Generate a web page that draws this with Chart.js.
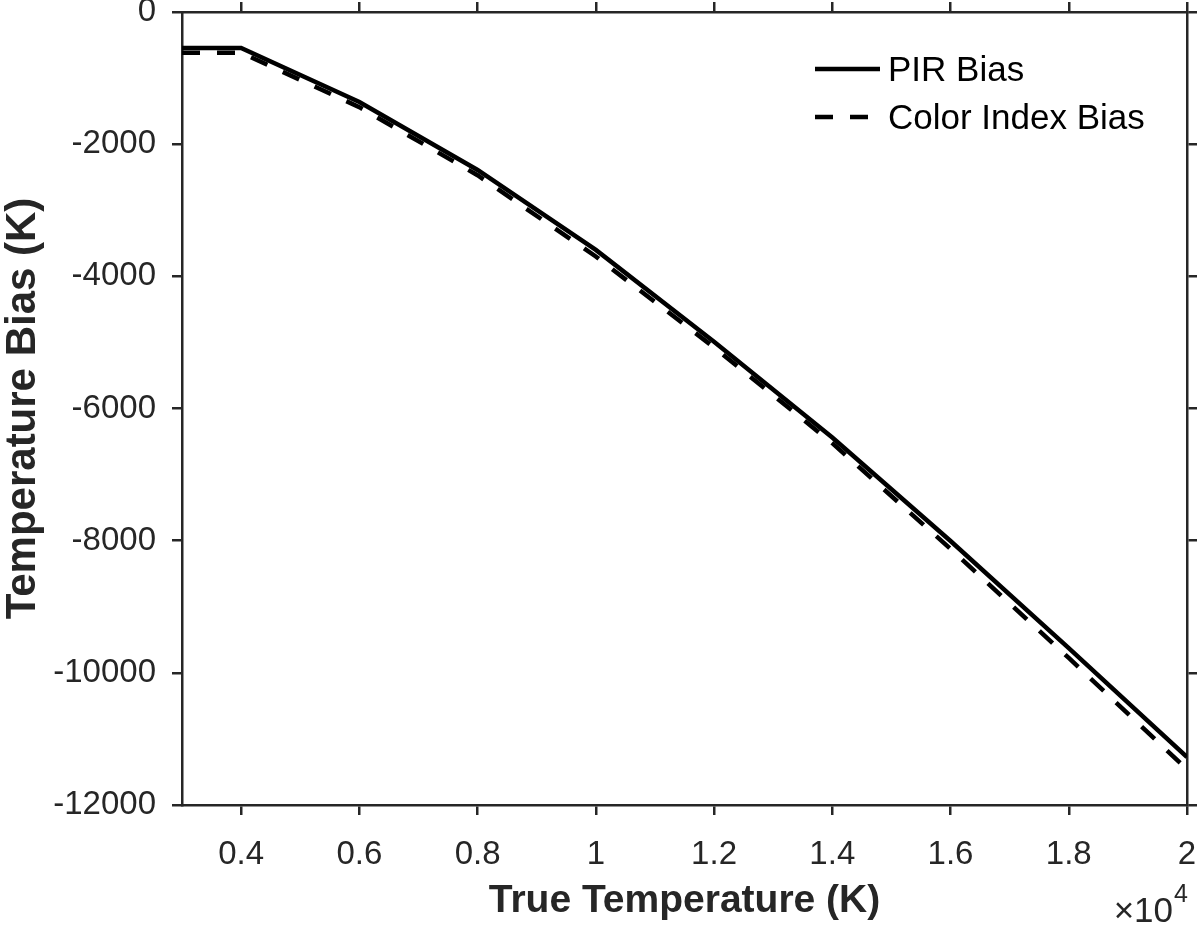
<!DOCTYPE html>
<html>
<head>
<meta charset="utf-8">
<title>Temperature Bias</title>
<script src="https://cdn.jsdelivr.net/npm/chart.js@4.4.0/dist/chart.umd.min.js"></script>
<style>
  html, body { margin: 0; padding: 0; background: #ffffff; }
  #wrap { width: 1200px; height: 925px; position: relative; }
</style>
</head>
<body>
<div id="wrap"><canvas id="biasChart" width="1200" height="925"></canvas></div>
<script>
// data (K)
const trueTemp = [3000, 4000, 6000, 8000, 10000, 12000, 14000, 16000, 18000, 20000];
const pirBias = [-545, -545, -1362, -2390, -3600, -4990, -6440, -8005, -9625, -11275];
const colorIndexBias = [-615, -615, -1440, -2470, -3700, -5075, -6525, -8125, -9775, -11460];

// tick positions
const xTicks = [4000, 6000, 8000, 10000, 12000, 14000, 16000, 18000, 20000];
const yTicks = [-12000, -10000, -8000, -6000, -4000, -2000, 0];

const seriesLabels = ['PIR Bias', 'Color Index Bias'];
const xTitle = 'True Temperature (K)';
const yTitle = 'Temperature Bias (K)';

const AXIS = '#262626';
const FONT = "'Liberation Sans', Arial, Helvetica, sans-serif";
const DASH = [18, 17];

const toPoints = (xs, ys) => xs.map((x, i) => ({ x: x, y: ys[i] }));

// legend drawn like a MATLAB legend without box
const legendPlugin = {
  id: 'matlabLegend',
  afterDatasetsDraw(chart) {
    const ctx = chart.ctx;
    const rows = [69, 117];
    ctx.save();
    chart.data.datasets.forEach((ds, i) => {
      const y = rows[i];
      ctx.beginPath();
      ctx.strokeStyle = ds.borderColor;
      ctx.lineWidth = ds.borderWidth;
      ctx.setLineDash(ds.borderDash || []);
      ctx.moveTo(815, y);
      ctx.lineTo(880, y);
      ctx.stroke();
      ctx.setLineDash([]);
      ctx.fillStyle = '#000000';
      ctx.font = `35px ${FONT}`;
      ctx.textAlign = 'left';
      ctx.textBaseline = 'middle';
      ctx.fillText(ds.label, 888, y + 2);
    });
    ctx.restore();
  }
};

// x10^4 exponent under the x axis
const exponentPlugin = {
  id: 'axisExponent',
  afterDraw(chart) {
    const ctx = chart.ctx;
    ctx.save();
    ctx.fillStyle = AXIS;
    ctx.textBaseline = 'alphabetic';
    ctx.textAlign = 'right';
    ctx.font = `35px ${FONT}`;
    ctx.fillText('\u00d710', 1173, 922);
    ctx.textAlign = 'left';
    ctx.font = `25px ${FONT}`;
    ctx.fillText('4', 1174, 902);
    ctx.restore();
  }
};

const setTicks = (values) => (scale) => {
  scale.ticks = values.map(v => ({ value: v }));
};

// fixed box size, no extra room for overhanging labels
const fixSize = (w, h) => (s) => {
  if (w !== null) s.width = w;
  if (h !== null) s.height = h;
  s.paddingTop = 0;
  s.paddingBottom = 0;
  s.paddingLeft = 0;
  s.paddingRight = 0;
};

const frameAxis = (extra) => Object.assign({
  type: 'linear',
  border: { display: true, color: AXIS, width: 2.5 },
  grid: {
    drawOnChartArea: false,
    drawTicks: true,
    tickLength: 10,
    color: AXIS,
    lineWidth: 2.5
  }
}, extra);

new Chart(document.getElementById('biasChart').getContext('2d'), {
  type: 'line',
  data: {
    datasets: [
      {
        label: seriesLabels[0],
        data: toPoints(trueTemp, pirBias),
        borderColor: '#000000',
        borderWidth: 4.5,
        pointRadius: 0,
        tension: 0,
        fill: false,
        order: 1
      },
      {
        label: seriesLabels[1],
        data: toPoints(trueTemp, colorIndexBias),
        borderColor: '#000000',
        borderWidth: 4.5,
        borderDash: DASH,
        pointRadius: 0,
        tension: 0,
        fill: false,
        order: 0
      }
    ]
  },
  options: {
    responsive: false,
    devicePixelRatio: 1,
    animation: false,
    layout: { padding: 0 },
    plugins: {
      legend: { display: false },
      tooltip: { enabled: false }
    },
    scales: {
      x: frameAxis({
        position: 'bottom',
        min: 3000,
        max: 20000,
        afterBuildTicks: setTicks(xTicks),
        afterFit: fixSize(null, 120),
        ticks: {
          color: AXIS,
          font: { family: FONT, size: 33 },
          padding: 20,
          maxRotation: 0,
          autoSkip: false,
          callback: (v) => String(+(v / 10000).toFixed(1))
        },
        title: {
          display: true,
          text: xTitle,
          color: AXIS,
          font: { family: FONT, size: 39, weight: 'bold' },
          padding: { top: 0, bottom: 0 }
        }
      }),
      y: frameAxis({
        position: 'left',
        min: -12000,
        max: 0,
        afterBuildTicks: setTicks(yTicks),
        afterFit: fixSize(182, null),
        ticks: {
          color: AXIS,
          font: { family: FONT, size: 33 },
          padding: 16,
          autoSkip: false,
          callback: (v) => String(v)
        },
        title: {
          display: true,
          text: yTitle,
          color: AXIS,
          font: { family: FONT, size: 42, weight: 'bold' },
          padding: { top: -2, bottom: 0 }
        }
      }),
      x2: frameAxis({
        position: 'top',
        min: 3000,
        max: 20000,
        afterBuildTicks: setTicks(xTicks),
        afterFit: fixSize(null, 12),
        ticks: { display: false }
      }),
      y2: frameAxis({
        position: 'right',
        min: -12000,
        max: 0,
        afterBuildTicks: setTicks(yTicks),
        afterFit: fixSize(13, null),
        ticks: { display: false }
      })
    }
  },
  plugins: [legendPlugin, exponentPlugin]
});
</script>
</body>
</html>
